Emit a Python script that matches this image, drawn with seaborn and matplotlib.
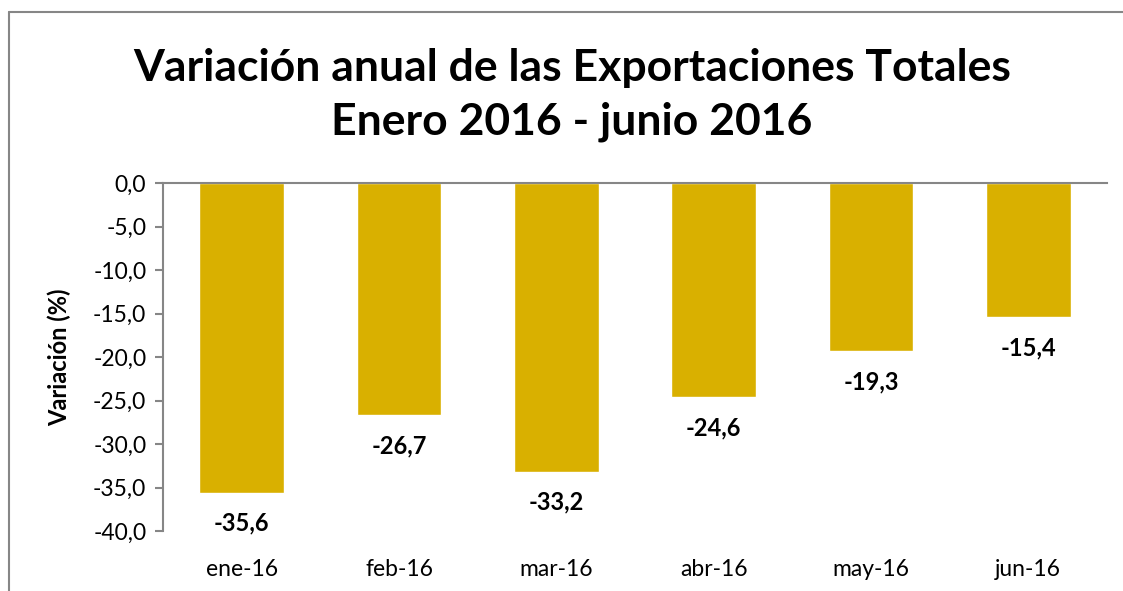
import matplotlib
matplotlib.use("Agg")
import matplotlib.pyplot as plt
import seaborn as sns
import pandas as pd
from matplotlib.lines import Line2D

months = ["ene-16", "feb-16", "mar-16", "abr-16", "may-16", "jun-16"]
variation = [-35.6, -26.7, -33.2, -24.6, -19.3, -15.4]
y_ticks = [0, -5, -10, -15, -20, -25, -30, -35, -40]

df = pd.DataFrame({"Mes": months, "Variacion": variation})

sns.set_style("white")
plt.rcParams['font.family'] = ['Lato', 'DejaVu Sans']
plt.rcParams['text.color'] = 'black'
plt.rcParams['axes.labelcolor'] = 'black'
plt.rcParams['xtick.color'] = 'black'
plt.rcParams['ytick.color'] = 'black'

fig = plt.figure(figsize=(11.23, 5.91), dpi=100)
ax = fig.add_axes([163/1123, 1 - 531/591, (1107-163)/1123, (531-183)/591])

sns.barplot(data=df, x="Mes", y="Variacion", color="#D9B000", width=0.54,
            saturation=1, ax=ax)

ax.set_ylim(-40, 0)
ax.set_yticks(y_ticks)
ax.set_yticklabels([f"{v:.1f}".replace(".", ",") for v in y_ticks], fontsize=16.5)
ax.tick_params(axis="y", length=6, width=1.5, color="#868686", direction="out", pad=6, left=True)
ax.tick_params(axis="x", length=0, pad=20, labelsize=16.5)
ax.xaxis.set_ticks_position("bottom")

for side in ["right", "bottom"]:
    ax.spines[side].set_visible(False)
for side in ["left", "top"]:
    ax.spines[side].set_color("#868686")
    ax.spines[side].set_linewidth(1.5)

for i, v in enumerate(variation):
    ax.annotate(f"{v:.1f}".replace(".", ","), (i, v), xytext=(0, -22),
                textcoords="offset points", ha="center", va="center",
                fontsize=17, fontweight="bold")

ax.set_xlabel("")
ax.set_ylabel("Variación (%)", fontsize=17, fontweight="bold")
ax.yaxis.set_label_coords((71 - 163) / (1107 - 163), 0.5)

fig.text(572/1123, 1 - 95/591, "Variación anual de las Exportaciones Totales\nEnero 2016 - junio 2016",
         ha="center", va="center", fontsize=32, fontweight="bold", linespacing=1.38)

# chart area border (left and top)
fig.add_artist(Line2D([9/1123, 9/1123], [0, 1 - 12/591], transform=fig.transFigure,
                      color="#868686", lw=1.5))
fig.add_artist(Line2D([9/1123, 1], [1 - 12/591, 1 - 12/591], transform=fig.transFigure,
                      color="#868686", lw=1.5))

fig.savefig("out.png", dpi=100)
